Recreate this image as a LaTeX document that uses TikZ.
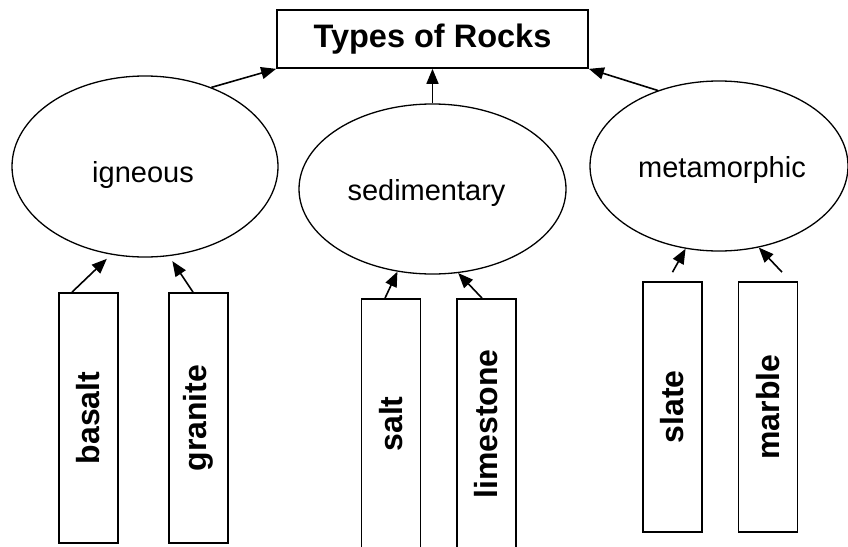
\documentclass[tikz,border=0pt]{standalone}
\usepackage{fontspec}
\setmainfont{Liberation Sans}
\usetikzlibrary{shapes.geometric,arrows.meta}

\begin{document}
\begin{tikzpicture}[x=1pt,y=-1pt,
    rocktype/.style={ellipse, draw, line width=1.3pt, inner sep=0pt},
    rockname/.style={font=\fontsize{29}{34}\selectfont, anchor=base},
    rocksample/.style={rectangle, draw, line width=1.7pt, rotate=90,
      minimum width=250pt, minimum height=59pt, inner sep=0pt,
      font=\fontsize{32}{37}\selectfont\bfseries},
    link/.style={line width=1.6pt, -{Triangle[length=15pt,width=12pt]}}]

  \useasboundingbox (0,0) rectangle (848,546);

        % title
  \node[draw, line width=1.7pt, minimum width=311pt, minimum height=58pt,
    font=\fontsize{32.5}{38}\selectfont\bfseries] (rocks) at (432.5,39) {Types of Rocks};

        % the three kinds
  \node[rocktype, minimum width=266pt, minimum height=181pt] (igneous) at (145,166.5) {};
  \node[rocktype, minimum width=267pt, minimum height=170pt] (sedim) at (432.5,189) {};
  \node[rocktype, minimum width=258pt, minimum height=170pt] (metam) at (719,166) {};

  \node[rockname] (ignname) at (143,182) {igneous};
  \node[rockname] (sedname) at (426.5,200) {sedimentary};
  \node[rockname] (metname) at (722,177) {metamorphic};

        % samples
  \node[rocksample] (basalt) at (88.5,418) {basalt};
  \node[rocksample] (granite) at (198.5,418) {granite};
  \node[rocksample] (salt) at (391,424) {salt};
  \node[rocksample] (limestone) at (486.5,424) {limestone};
  \node[rocksample] (slate) at (672.5,407) {slate};
  \node[rocksample] (marble) at (768,407) {marble};

        % draw arrows
  \draw[link] (igneous.50.9) -- (rocks.south west);
  \draw[link] (sedim.north) -- (rocks.south);
  \draw[link] (metam.129.3) -- (rocks.south east);

  \draw[link, shorten >=6pt] ([xshift=-16.5pt]basalt.east) -- (igneous.-111.2);
  \draw[link, shorten >=6pt] ([xshift=-5.5pt]granite.east) -- (igneous.-75.9);
  \draw[link] ([xshift=-6pt]salt.east) -- (sedim.-113.5);
  \draw[link] ([xshift=-4.5pt]limestone.east) -- (sedim.-73.1);
  \draw[link] ([yshift=9pt]slate.east) -- (metam.-112);
  \draw[link] ([xshift=14pt,yshift=9pt]marble.east) -- (metam.-64);

\end{tikzpicture}
\end{document}
